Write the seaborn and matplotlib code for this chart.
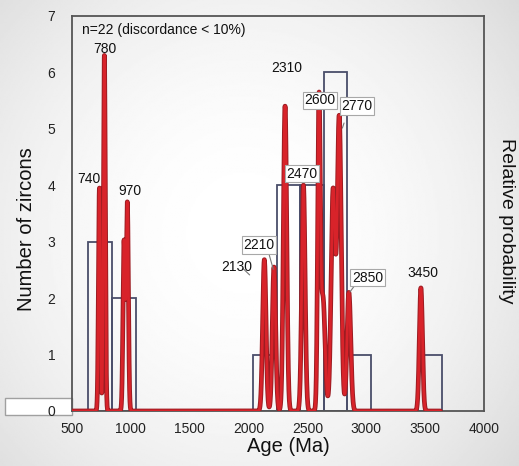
import numpy as np
import pandas as pd
import matplotlib
matplotlib.use("Agg")
import matplotlib.pyplot as plt
import matplotlib.patheffects as pe
from matplotlib.patches import Rectangle
import seaborn as sns

# ---------------- data ----------------
# histogram of zircon ages (bin width 200 Ma)
bin_lefts = [640, 840, 2040, 2240, 2440, 2640, 2840, 3440]
bin_counts = [3, 2, 1, 4, 4, 6, 1, 1]
bin_width = 200
hist_start, hist_end = 640, 3640

# relative probability curve: component peaks (age, height, spread)
peak_ages = [733, 775, 942, 970, 2134, 2216, 2310, 2466, 2598, 2632, 2718, 2770, 2852, 3464]
peak_heights = [3.95, 6.3, 3.0, 3.68, 2.68, 2.55, 5.4, 4.0, 5.3, 2.0, 3.9, 5.2, 2.1, 2.18]
peak_sigmas = [8, 8, 9, 9, 14, 14, 14, 14, 11, 18, 17, 17, 16, 13]
curve_start, curve_end = 500, 3630

# peak labels
label_texts = ["740", "780", "970", "2130", "2210", "2310", "2470", "2600", "2770", "2850", "3450"]
label_x = [644, 780, 993, 1899, 2089, 2324, 2454, 2607, 2919, 3009, 3480]
label_y = [4.11, 6.415, 3.90, 2.55, 2.94, 6.08, 4.20, 5.50, 5.40, 2.36, 2.44]
label_boxed = [False, False, False, False, True, False, True, True, True, True, False]
leaders = {  # label -> (x0, y0, x1, y1)
    "2130": (1949, 2.53, 2009, 2.41),
    "2210": (2176, 2.76, 2210, 2.51),
    "2770": (2811, 5.10, 2797, 5.01),
    "2850": (2904, 2.23, 2862, 2.11),
}

x_ticks = [500, 1000, 1500, 2000, 2500, 3000, 3500, 4000]
y_ticks = [0, 1, 2, 3, 4, 5, 6, 7]

# ---------------- style ----------------
sns.set_theme(style="white")
plt.rcParams["font.family"] = ["Liberation Sans", "DejaVu Sans"]

W, H = 519, 466
fig = plt.figure(figsize=(W / 100, H / 100), dpi=100)

# soft radial background
bg = fig.add_axes([0, 0, 1, 1], zorder=-10)
gx, gy = np.meshgrid(np.linspace(0, 1, 300), np.linspace(0, 1, 300))
r2 = ((gx - 0.47) / 0.6) ** 2 + ((gy - 0.5) / 0.7) ** 2
bg.imshow(1 - 0.11 * np.clip(r2, 0, 1.4), cmap="gray", vmin=0, vmax=1,
          extent=[0, 1, 0, 1], aspect="auto", origin="lower")
bg.set_axis_off()
# small white box at lower left (behind the axis and its tick label)
bg.add_patch(Rectangle((5 / W, 1 - 415 / H), 67 / W, 17.5 / H,
                       transform=bg.transAxes, facecolor="white",
                       edgecolor="#a0a0a0", linewidth=1.0, zorder=2))

ax = fig.add_axes([72 / W, 1 - 411 / H, 412 / W, 395.3 / H])
ax.set_facecolor("none")

# histogram
bin_centers = [b + bin_width / 2 for b in bin_lefts]
hist_df = pd.DataFrame({"age": bin_centers, "count": bin_counts})
bin_edges = list(range(hist_start, hist_end + 1, bin_width))
sns.histplot(data=hist_df, x="age", weights="count", bins=bin_edges,
             fill=False, color="#4a4e6a", linewidth=1.3, ax=ax)
for p in ax.patches:
    p.set_zorder(2)
    if p.get_height() == 0:
        p.set_visible(False)

# probability curve
xs = np.linspace(curve_start, curve_end, 4000)
ys = np.zeros_like(xs)
for mu, a, s in zip(peak_ages, peak_heights, peak_sigmas):
    ys += a * np.exp(-0.5 * ((xs - mu) / s) ** 2)
curve_df = pd.DataFrame({"age": xs, "prob": ys})
sns.lineplot(data=curve_df, x="age", y="prob", ax=ax, color="#d8232a",
             linewidth=2.0, estimator=None, sort=False, zorder=3,
             path_effects=[pe.Stroke(linewidth=3.4, foreground="#9c1c22"), pe.Normal()])

ax.set_xlim(500, 4000)
ax.set_ylim(0, 7)
ax.set_xticks(x_ticks)
ax.set_yticks(y_ticks)
ax.tick_params(axis="both", direction="out", length=4, width=1.0, color="#666666",
               labelsize=10, labelcolor="#222222")
ax.tick_params(axis="y", pad=8)
ax.tick_params(axis="x", pad=4)
for side in ["left", "bottom", "top", "right"]:
    ax.spines[side].set_color("#555555")
    ax.spines[side].set_linewidth(1.3)
    ax.spines[side].set_visible(True)

ax.set_xlabel("Age (Ma)", fontsize=14.5, color="#111111")
ax.xaxis.set_label_coords((288 - 72) / 412, -(437 - 411) / 395.3)
ax.set_ylabel("Number of zircons", fontsize=14.5, color="#111111")
ax.yaxis.set_label_coords((36 - 72) / 412, (411 - 229) / 395.3)
fig.text(507 / W, 1 - 221 / H, "Relative probability", rotation=270,
         ha="center", va="center", fontsize=14, color="#111111")

# annotation text
ax.text(585, 6.75, "n=22 (discordance < 10%)", fontsize=10, ha="left", va="center",
        color="#111111", zorder=5)
for t, x, y, boxed in zip(label_texts, label_x, label_y, label_boxed):
    kw = {}
    if boxed:
        kw["bbox"] = dict(boxstyle="square,pad=0.12", facecolor="white",
                          edgecolor="#a8a8a8", linewidth=0.8)
    ax.text(x, y, t, fontsize=10, ha="center", va="center", color="#111111",
            zorder=6, **kw)
for t, (x0, y0, x1, y1) in leaders.items():
    ax.plot([x0, x1], [y0, y1], color="#777777", linewidth=0.8, zorder=5)

fig.savefig("out.png", dpi=100)
